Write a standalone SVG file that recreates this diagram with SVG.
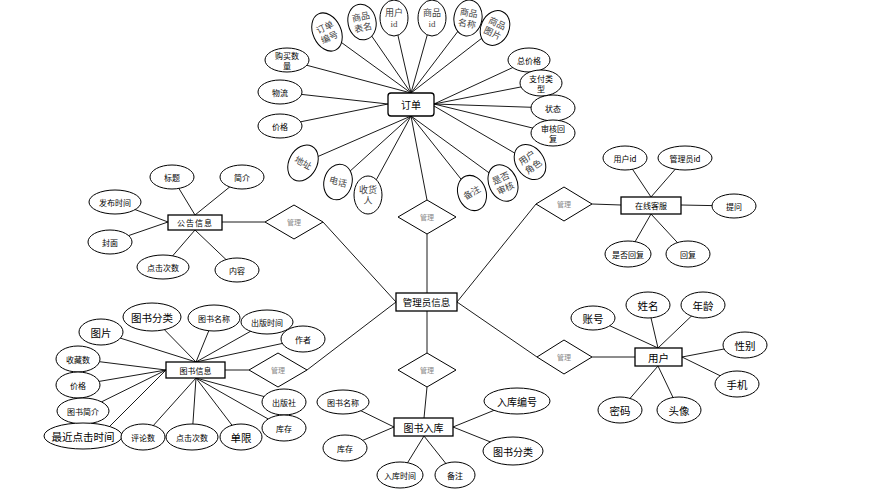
<svg xmlns="http://www.w3.org/2000/svg" width="874" height="496" viewBox="0 0 874 496">
<style>
text{font-family:"Noto Sans CJK SC","Liberation Sans",sans-serif;text-anchor:middle;dominant-baseline:central;fill:#000}
.ent{fill:#fff;stroke:#000;stroke-width:1.3}
.att{fill:#fff;stroke:#000;stroke-width:1}
.rel{fill:#fff;stroke:#000;stroke-width:1}
.rt{font-size:7px;fill:#888}
.ln line{stroke:#000;stroke-width:0.9}
.s{font-size:8px}
.l{font-size:10.5px}
.u{font-size:10.5px}
.sf{font-family:"Liberation Serif","Noto Sans CJK SC",serif;font-size:9px;fill:#444}
</style>
<rect width="874" height="496" fill="#fff"/>
<g id="connectors" class="ln">
<line x1="327" y1="32" x2="411" y2="93"/>
<line x1="362" y1="22" x2="411" y2="93"/>
<line x1="394" y1="18" x2="411" y2="93"/>
<line x1="432" y1="18" x2="411" y2="93"/>
<line x1="468" y1="18" x2="411" y2="93"/>
<line x1="495" y1="28" x2="411" y2="93"/>
<line x1="287" y1="60" x2="411" y2="93"/>
<line x1="280" y1="92" x2="388" y2="104"/>
<line x1="280" y1="126" x2="388" y2="104"/>
<line x1="529" y1="60" x2="434" y2="104"/>
<line x1="541" y1="83" x2="434" y2="104"/>
<line x1="553" y1="108" x2="434" y2="104"/>
<line x1="553" y1="133" x2="434" y2="104"/>
<line x1="530" y1="162" x2="434" y2="106"/>
<line x1="303" y1="163" x2="411" y2="116"/>
<line x1="338" y1="182" x2="411" y2="116"/>
<line x1="368" y1="195" x2="411" y2="116"/>
<line x1="472" y1="193" x2="411" y2="116"/>
<line x1="503" y1="183" x2="411" y2="116"/>
<line x1="427" y1="200" x2="411" y2="116"/>
<line x1="427" y1="234" x2="427" y2="293"/>
<line x1="427" y1="311" x2="427" y2="353"/>
<line x1="427" y1="387" x2="424" y2="418"/>
<line x1="323" y1="222" x2="396" y2="302"/>
<line x1="307" y1="370" x2="396" y2="302"/>
<line x1="536" y1="204" x2="457" y2="302"/>
<line x1="537" y1="357" x2="457" y2="302"/>
<line x1="222" y1="222" x2="265" y2="222"/>
<line x1="172" y1="177" x2="195" y2="215"/>
<line x1="242" y1="177" x2="195" y2="215"/>
<line x1="115" y1="202" x2="168" y2="222"/>
<line x1="110" y1="242" x2="168" y2="222"/>
<line x1="163" y1="267" x2="195" y2="230"/>
<line x1="237" y1="270" x2="195" y2="230"/>
<line x1="592" y1="204" x2="621" y2="205"/>
<line x1="625" y1="158" x2="651" y2="197"/>
<line x1="685" y1="158" x2="651" y2="197"/>
<line x1="734" y1="206" x2="681" y2="205"/>
<line x1="628" y1="254" x2="651" y2="214"/>
<line x1="688" y1="254" x2="651" y2="214"/>
<line x1="592" y1="357" x2="635" y2="357"/>
<line x1="593" y1="318" x2="658" y2="348"/>
<line x1="648" y1="305" x2="658" y2="348"/>
<line x1="703" y1="305" x2="658" y2="348"/>
<line x1="745" y1="345" x2="682" y2="357"/>
<line x1="737" y1="384" x2="682" y2="357"/>
<line x1="620" y1="410" x2="658" y2="366"/>
<line x1="679" y1="410" x2="658" y2="366"/>
<line x1="225" y1="370" x2="249" y2="370"/>
<line x1="101" y1="332" x2="196" y2="362"/>
<line x1="152" y1="317" x2="196" y2="362"/>
<line x1="214" y1="318" x2="196" y2="362"/>
<line x1="267" y1="322" x2="196" y2="362"/>
<line x1="303" y1="339" x2="196" y2="362"/>
<line x1="78" y1="359" x2="166" y2="370"/>
<line x1="78" y1="385" x2="166" y2="370"/>
<line x1="83" y1="411" x2="166" y2="370"/>
<line x1="100" y1="436" x2="166" y2="370"/>
<line x1="143" y1="437" x2="196" y2="378"/>
<line x1="192" y1="437" x2="196" y2="378"/>
<line x1="241" y1="437" x2="196" y2="378"/>
<line x1="284" y1="402" x2="196" y2="378"/>
<line x1="284" y1="428" x2="196" y2="378"/>
<line x1="343" y1="402" x2="394" y2="427"/>
<line x1="345" y1="448" x2="394" y2="427"/>
<line x1="400" y1="475" x2="424" y2="436"/>
<line x1="455" y1="475" x2="424" y2="436"/>
<line x1="517" y1="401" x2="453" y2="427"/>
<line x1="513" y1="451" x2="453" y2="427"/>
</g>

<g id="order">
<rect class="ent" x="388" y="93" width="46" height="23" rx="3"/>
<text x="411" y="104.5" style="font-size:10px">订单</text>
</g>
<g id="order-no" transform="translate(327,32) rotate(-25)"><ellipse class="att" rx="14" ry="20"/><text class="sf" y="-5">订单</text><text class="sf" y="6">编号</text></g>
<g id="order-table" transform="translate(362,22) rotate(-12)"><ellipse class="att" rx="14" ry="18"/><text class="sf" y="-5">商品</text><text class="sf" y="6">表名</text></g>
<g id="order-uid" transform="translate(394,18)"><ellipse class="att" rx="14" ry="18"/><text class="sf" y="-5">用户</text><text class="sf" y="6">id</text></g>
<g id="order-gid" transform="translate(432,18)"><ellipse class="att" rx="14" ry="18"/><text class="sf" y="-5">商品</text><text class="sf" y="6">id</text></g>
<g id="order-gname" transform="translate(468,18) rotate(10)"><ellipse class="att" rx="14" ry="18"/><text class="sf" y="-5">商品</text><text class="sf" y="6">名称</text></g>
<g id="order-gpic" transform="translate(495,28) rotate(25)"><ellipse class="att" rx="14" ry="18"/><text class="sf" y="-5">商品</text><text class="sf" y="6">图片</text></g>
<g id="order-qty"><ellipse class="att" cx="287" cy="60" rx="22" ry="12"/><text class="s" x="287" y="55.5">购买数</text><text class="s" x="287" y="65">量</text></g>
<g id="order-logistics"><ellipse class="att" cx="280" cy="92" rx="22" ry="12"/><text class="s" x="280" y="92">物流</text></g>
<g id="order-price"><ellipse class="att" cx="280" cy="126" rx="22" ry="12"/><text class="s" x="280" y="126">价格</text></g>
<g id="order-total"><ellipse class="att" cx="529" cy="60" rx="21" ry="12"/><text class="s" x="529" y="60">总价格</text></g>
<g id="order-paytype"><ellipse class="att" cx="541" cy="83" rx="21" ry="13"/><text class="s" x="541" y="78.5">支付类</text><text class="s" x="541" y="88">型</text></g>
<g id="order-status"><ellipse class="att" cx="553" cy="108" rx="22" ry="13"/><text class="s" x="553" y="108">状态</text></g>
<g id="order-reply"><ellipse class="att" cx="553" cy="133" rx="22" ry="13"/><text class="s" x="553" y="128.5">审核回</text><text class="s" x="553" y="138">复</text></g>
<g id="order-addr" transform="translate(303,163) rotate(28)"><ellipse class="att" rx="14" ry="19"/><text class="sf">地址</text></g>
<g id="order-tel" transform="translate(338,182) rotate(15)"><ellipse class="att" rx="14" ry="18"/><text class="sf">电话</text></g>
<g id="order-recv" transform="translate(368,195)"><ellipse class="att" rx="14" ry="19"/><text class="sf" y="-5">收货</text><text class="sf" y="6">人</text></g>
<g id="order-remark" transform="translate(472,193) rotate(-20)"><ellipse class="att" rx="14" ry="18"/><text class="sf" transform="rotate(-10)">备注</text></g>
<g id="order-audit" transform="translate(503,183) rotate(-25)"><ellipse class="att" rx="14" ry="19"/><text class="sf" y="-5">是否</text><text class="sf" y="6">审核</text></g>
<g id="order-role" transform="translate(530,162) rotate(-35)"><ellipse class="att" rx="14" ry="19"/><text class="sf" y="-5">用户</text><text class="sf" y="6">角色</text></g>

<g id="rel-top"><polygon class="rel" points="427,200 456,217 427,234 398,217"/><text class="rt" x="427" y="217">管理</text></g>
<g id="admin"><rect class="ent" x="396" y="293" width="61" height="18"/><text x="426.5" y="302" style="font-size:9.5px">管理员信息</text></g>
<g id="rel-bottom"><polygon class="rel" points="427,353 456,370 427,387 398,370"/><text class="rt" x="427" y="370">管理</text></g>
<g id="rel-notice"><polygon class="rel" points="294,205 323,222 294,239 265,222"/><text class="rt" x="294" y="222">管理</text></g>
<g id="rel-book"><polygon class="rel" points="278,353 307,370 278,387 249,370"/><text class="rt" x="278" y="370">管理</text></g>
<g id="rel-service"><polygon class="rel" points="564,187 592,204 564,221 536,204"/><text class="rt" x="564" y="204">管理</text></g>
<g id="rel-user"><polygon class="rel" points="564,340 592,357 564,374 537,357"/><text class="rt" x="564" y="357">管理</text></g>

<g id="notice"><rect class="ent" x="168" y="215" width="54" height="15"/><text class="s" x="195" y="222.5" letter-spacing="1">公告信息</text></g>
<g id="notice-title"><ellipse class="att" cx="172" cy="177" rx="22" ry="12"/><text class="s" x="172" y="177">标题</text></g>
<g id="notice-intro"><ellipse class="att" cx="242" cy="177" rx="22" ry="12"/><text class="s" x="242" y="177">简介</text></g>
<g id="notice-time"><ellipse class="att" cx="115" cy="202" rx="26" ry="12"/><text class="s" x="115" y="202">发布时间</text></g>
<g id="notice-cover"><ellipse class="att" cx="110" cy="242" rx="22" ry="12"/><text class="s" x="110" y="242">封面</text></g>
<g id="notice-clicks"><ellipse class="att" cx="163" cy="267" rx="26" ry="12"/><text class="s" x="163" y="267">点击次数</text></g>
<g id="notice-content"><ellipse class="att" cx="237" cy="270" rx="22" ry="12"/><text class="s" x="237" y="270">内容</text></g>

<g id="service"><rect class="ent" x="621" y="197" width="60" height="17"/><text class="s" x="651" y="205.5">在线客服</text></g>
<g id="service-uid"><ellipse class="att" cx="625" cy="158" rx="22" ry="12"/><text class="s" x="625" y="158">用户id</text></g>
<g id="service-aid"><ellipse class="att" cx="685" cy="158" rx="27" ry="12"/><text class="s" x="685" y="158">管理员id</text></g>
<g id="service-ask"><ellipse class="att" cx="734" cy="206" rx="22" ry="12"/><text class="s" x="734" y="206">提问</text></g>
<g id="service-replied"><ellipse class="att" cx="628" cy="254" rx="23" ry="13"/><text class="s" x="628" y="254">是否回复</text></g>
<g id="service-reply"><ellipse class="att" cx="688" cy="254" rx="22" ry="13"/><text class="s" x="688" y="254">回复</text></g>

<g id="user"><rect class="ent" x="635" y="348" width="47" height="18"/><text x="658.5" y="357" style="font-size:10.5px">用户</text></g>
<g id="user-account"><ellipse class="att" cx="593" cy="318" rx="22" ry="12"/><text class="u" x="593" y="318">账号</text></g>
<g id="user-name"><ellipse class="att" cx="648" cy="305" rx="22" ry="13"/><text class="u" x="648" y="305">姓名</text></g>
<g id="user-age"><ellipse class="att" cx="703" cy="305" rx="22" ry="13"/><text class="u" x="703" y="305">年龄</text></g>
<g id="user-sex"><ellipse class="att" cx="745" cy="345" rx="22" ry="13"/><text class="u" x="745" y="345">性别</text></g>
<g id="user-phone"><ellipse class="att" cx="737" cy="384" rx="22" ry="13"/><text class="u" x="737" y="384">手机</text></g>
<g id="user-pwd"><ellipse class="att" cx="620" cy="410" rx="22" ry="13"/><text class="u" x="620" y="410">密码</text></g>
<g id="user-avatar"><ellipse class="att" cx="679" cy="410" rx="22" ry="13"/><text class="u" x="679" y="410">头像</text></g>

<g id="book"><rect class="ent" x="166" y="362" width="59" height="16"/><text class="s" x="195.5" y="370">图书信息</text></g>
<g id="book-pic"><ellipse class="att" cx="101" cy="332" rx="22" ry="13"/><text class="l" x="101" y="332">图片</text></g>
<g id="book-cat"><ellipse class="att" cx="152" cy="317" rx="29" ry="14"/><text class="l" x="152" y="317">图书分类</text></g>
<g id="book-name"><ellipse class="att" cx="214" cy="318" rx="26" ry="13"/><text class="s" x="214" y="318">图书名称</text></g>
<g id="book-pubtime"><ellipse class="att" cx="267" cy="322" rx="26" ry="12"/><text class="s" x="267" y="322">出版时间</text></g>
<g id="book-author"><ellipse class="att" cx="303" cy="339" rx="22" ry="13"/><text class="s" x="303" y="339">作者</text></g>
<g id="book-fav"><ellipse class="att" cx="78" cy="359" rx="22" ry="13"/><text class="s" x="78" y="359">收藏数</text></g>
<g id="book-price"><ellipse class="att" cx="78" cy="385" rx="22" ry="13"/><text class="s" x="78" y="385">价格</text></g>
<g id="book-intro"><ellipse class="att" cx="83" cy="411" rx="26" ry="13"/><text class="s" x="83" y="411">图书简介</text></g>
<g id="book-lastclick"><ellipse class="att" cx="83" cy="436" rx="39" ry="13"/><text class="l" x="83" y="436">最近点击时间</text></g>
<g id="book-comments"><ellipse class="att" cx="143" cy="437" rx="22" ry="13"/><text class="s" x="143" y="437">评论数</text></g>
<g id="book-clicks"><ellipse class="att" cx="192" cy="437" rx="26" ry="13"/><text class="s" x="192" y="437">点击次数</text></g>
<g id="book-limit"><ellipse class="att" cx="241" cy="437" rx="21" ry="13"/><text class="l" x="241" y="437">单限</text></g>
<g id="book-publisher"><ellipse class="att" cx="284" cy="402" rx="22" ry="13"/><text class="s" x="284" y="402">出版社</text></g>
<g id="book-stock"><ellipse class="att" cx="284" cy="428" rx="22" ry="13"/><text class="s" x="284" y="428">库存</text></g>

<g id="stockin"><rect class="ent" x="394" y="418" width="59" height="18"/><text x="423.5" y="427" style="font-size:10px">图书入库</text></g>
<g id="stockin-name"><ellipse class="att" cx="343" cy="402" rx="26" ry="12"/><text class="s" x="343" y="402">图书名称</text></g>
<g id="stockin-stock"><ellipse class="att" cx="345" cy="448" rx="22" ry="13"/><text class="s" x="345" y="448">库存</text></g>
<g id="stockin-time"><ellipse class="att" cx="400" cy="475" rx="23" ry="13"/><text class="s" x="400" y="475">入库时间</text></g>
<g id="stockin-remark"><ellipse class="att" cx="455" cy="475" rx="20" ry="13"/><text class="s" x="455" y="475">备注</text></g>
<g id="stockin-no"><ellipse class="att" cx="517" cy="401" rx="33" ry="13"/><text x="517" y="401" style="font-size:10px">入库编号</text></g>
<g id="stockin-cat"><ellipse class="att" cx="513" cy="451" rx="30" ry="14"/><text x="513" y="451" style="font-size:10px">图书分类</text></g>
</svg>
